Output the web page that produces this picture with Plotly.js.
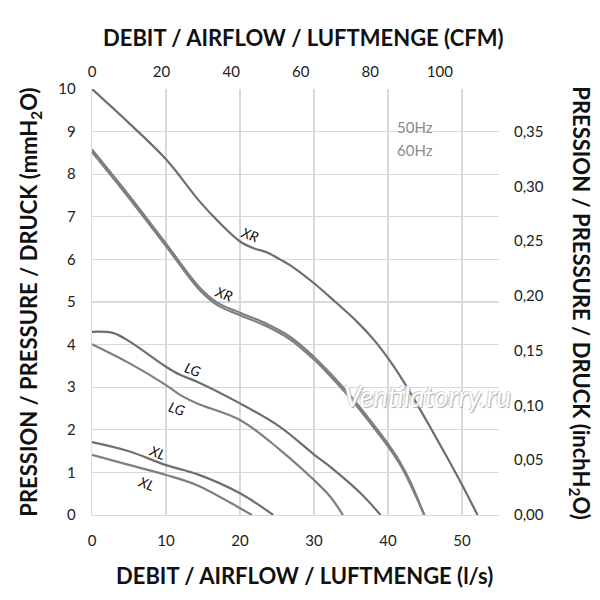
<!DOCTYPE html>
<html><head><meta charset="utf-8">
<script src="https://cdn.plot.ly/plotly-3.0.1.min.js"></script>
<style>body{margin:0;background:#fff}#c{width:600px;height:600px}</style>
</head><body><div id="c"></div>
<script>
// Flow in l/s, pressure in mmH2O
const xr60_x = [0, 5, 10, 14.6, 17, 20, 22, 23.6, 25.4, 26.8, 30, 32.9, 35.8, 38.1, 40, 42, 44, 46, 48, 50, 52.1];
const xr60_y = [10, 9.2, 8.35, 7.35, 6.9, 6.42, 6.25, 6.17, 6.0, 5.86, 5.44, 5.0, 4.54, 4.11, 3.68, 3.16, 2.58, 1.97, 1.35, 0.71, 0];
const xr50a_x = [0, 5, 10, 14.6, 17, 20, 23.6, 26.8, 30, 32, 34, 36, 38, 40, 41.5, 43, 44.9];
const xr50a_y = [8.58, 7.5, 6.37, 5.33, 4.98, 4.75, 4.49, 4.18, 3.71, 3.36, 2.98, 2.57, 2.13, 1.67, 1.28, 0.79, 0];
const xr50b_y = [8.52, 7.44, 6.31, 5.27, 4.92, 4.69, 4.43, 4.12, 3.65, 3.30, 2.92, 2.51, 2.07, 1.61, 1.22, 0.73, 0];
const lg60_x = [0, 2.9, 5.1, 10, 11.9, 14.2, 20, 25.4, 30, 32.2, 36.3, 39];
const lg60_y = [4.30, 4.27, 4.07, 3.48, 3.29, 3.13, 2.62, 2.07, 1.42, 1.13, 0.51, 0];
const lg50_x = [0, 5.1, 10, 11.9, 14.2, 20, 25.4, 30, 32.2, 33.9];
const lg50_y = [4.01, 3.56, 3.05, 2.82, 2.62, 2.23, 1.53, 0.82, 0.43, 0];
const xl60_x = [0, 5.1, 10, 14.2, 20, 24.5];
const xl60_y = [1.71, 1.49, 1.17, 0.96, 0.51, 0];
const xl50_x = [0, 5.1, 10, 14.2, 20, 21.6];
const xl50_y = [1.41, 1.17, 0.94, 0.70, 0.16, 0];

const modelLabels = ['XR', 'XR', 'LG', 'LG', 'XL', 'XL'];
const labelX = [21.4, 17.8, 13.7, 11.5, 8.9, 7.4];
const labelY = [6.59, 5.2, 3.42, 2.5, 1.46, 0.73];
const freqLabels = ['50Hz', '60Hz'];
const titles = ['DEBIT / AIRFLOW / LUFTMENGE (CFM)', 'DEBIT / AIRFLOW / LUFTMENGE (l/s)',
  'PRESSION / PRESSURE / DRUCK (mmH<sub>2</sub>O)', 'PRESSION / PRESSURE / DRUCK (inchH<sub>2</sub>O)'];

const xMax = 55, yMax = 10;
const cfmMax = 117;      // top axis
const inchMax = 0.389;   // right axis

const F = 'Lato, "Open Sans", sans-serif';
const dark = '#6e6e6e', light = '#7f7f7f';

function tr(x, y, color, w) {
  return {x: x, y: y, type: 'scatter', mode: 'lines', line: {color: color, width: w, shape: 'spline', smoothing: 1}, hoverinfo: 'skip', showlegend: false};
}
const data = [
  tr(xr60_x, xr60_y, dark, 2.2),
  tr(xr50a_x, xr50a_y, light, 2.2),
  tr(xr50a_x, xr50b_y, light, 2.2),
  tr(lg60_x, lg60_y, dark, 2.2),
  tr(lg50_x, lg50_y, light, 2.2),
  tr(xl60_x, xl60_y, dark, 2.2),
  tr(xl50_x, xl50_y, light, 2.2),
  {x: [0, cfmMax], y: [null, null], xaxis: 'x2', yaxis: 'y', type: 'scatter', mode: 'lines', showlegend: false, hoverinfo: 'skip'},
  {x: [null, null], y: [0, inchMax], xaxis: 'x', yaxis: 'y2', type: 'scatter', mode: 'lines', showlegend: false, hoverinfo: 'skip'}
];

const titleFont = {family: F, size: 22, color: '#111', weight: 'bold'};
const ann = [];
for (let i = 0; i < modelLabels.length; i++) {
  ann.push({x: labelX[i], y: labelY[i], xref: 'x', yref: 'y', text: modelLabels[i], showarrow: false, textangle: 20,
    font: {family: F, size: 14, color: '#111', style: 'italic'}});
}
ann.push({x: 43.6, y: 9.1, xref: 'x', yref: 'y', text: freqLabels[0], showarrow: false, font: {family: F, size: 15, color: '#8c8c8c'}});
ann.push({x: 43.6, y: 8.57, xref: 'x', yref: 'y', text: freqLabels[1], showarrow: false, font: {family: F, size: 15, color: '#8c8c8c'}});
ann.push({x: 45.4, y: 2.8, xref: 'x', yref: 'y', text: 'Ventilatorry.ru', showarrow: false,
  font: {family: F, size: 28, color: '#ffffff', style: 'italic', shadow: '1px 1px 1px #a8a8a8, -1px -1px 1px #cfcfcf'}});
ann.push({x: 0.52, y: 1.12, xref: 'paper', yref: 'paper', xanchor: 'center', yanchor: 'middle', text: titles[0], showarrow: false, font: titleFont});
ann.push({x: 0.523, y: -0.143, xref: 'paper', yref: 'paper', xanchor: 'center', yanchor: 'middle', text: titles[1], showarrow: false, font: titleFont});
ann.push({x: 1.199, y: 0.497, xref: 'paper', yref: 'paper', xanchor: 'center', yanchor: 'middle', text: titles[3], showarrow: false, textangle: 90, font: titleFont});

const tickFont = {family: F, size: 15, color: '#222'};

const layout = {
  width: 600, height: 600,
  margin: {l: 92, r: 101, t: 89, b: 85},
  paper_bgcolor: '#fff', plot_bgcolor: '#fff',
  separators: ',.',
  xaxis: {range: [0, xMax], dtick: 10, tick0: 0, showgrid: true, gridcolor: '#d9d9d9', gridwidth: 1.3,
    zeroline: false, showline: true, linecolor: '#d9d9d9', linewidth: 1.3, ticks: '', tickfont: tickFont, ticklabelstandoff: 12},
  xaxis2: {range: [0, cfmMax], dtick: 20, tick0: 0, overlaying: 'x', side: 'top', showgrid: false, zeroline: false, ticks: '',
    tickfont: tickFont, ticklabelstandoff: 8},
  yaxis: {range: [0, yMax], dtick: 1, tick0: 0, showgrid: true, gridcolor: '#d9d9d9', gridwidth: 1.3,
    zeroline: false, showline: true, linecolor: '#d9d9d9', linewidth: 1.3, ticks: '', tickfont: tickFont, ticklabelstandoff: 12,
    title: {text: titles[2], font: titleFont, standoff: 14}},
  yaxis2: {range: [0, inchMax], dtick: 0.05, tick0: 0, tickformat: '.2f', overlaying: 'y', side: 'right', showgrid: false,
    zeroline: false, ticks: '', tickfont: tickFont, ticklabelstandoff: 14},
  annotations: ann
};

Plotly.newPlot('c', data, layout, {staticPlot: true, displayModeBar: false});
</script></body></html>
